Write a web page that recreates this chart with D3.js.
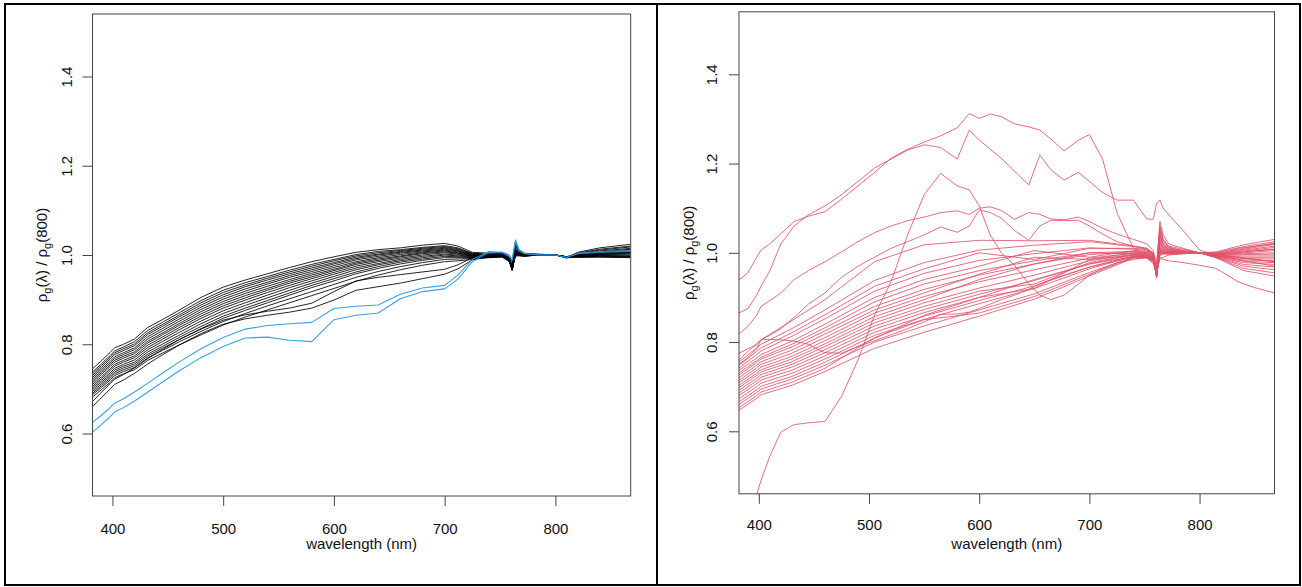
<!DOCTYPE html>
<html>
<head>
<meta charset="utf-8">
<script src="https://cdn.jsdelivr.net/npm/d3@7"></script>
<style>
body { margin: 0; background: #fff; }
svg { display: block; font-family: "Liberation Sans", Arial, sans-serif; }
</style>
</head>
<body>
<svg id="chart"></svg>
<script>
// ---- data ----
var xTicks = [400, 500, 600, 700, 800];
var yTicks = [0.6, 0.8, 1.0, 1.2, 1.4];

// left panel, wavelengths (nm)
var leftWaves = [382, 390, 398, 402, 410, 420, 432, 445, 460, 480, 500, 520, 540, 560, 580, 600, 620, 640, 660, 680, 700, 712, 725, 740, 752, 758, 761, 764, 767, 772, 785, 800, 810, 820, 840, 868];

var leftBlack = [
  [0.745,0.763,0.782,0.792,0.800,0.812,0.838,0.855,0.876,0.905,0.928,0.944,0.958,0.972,0.985,0.996,1.006,1.012,1.016,1.022,1.026,1.020,1.006,1.004,1.006,1.000,0.985,1.030,1.012,1.004,1.002,1.000,0.994,1.006,1.016,1.024],
  [0.738,0.756,0.775,0.785,0.794,0.806,0.831,0.849,0.870,0.898,0.921,0.938,0.952,0.966,0.979,0.990,1.001,1.008,1.012,1.017,1.021,1.016,1.004,1.002,1.004,0.997,0.978,1.024,1.010,1.003,1.001,1.000,0.995,1.004,1.013,1.020],
  [0.734,0.752,0.771,0.781,0.790,0.801,0.826,0.844,0.865,0.893,0.916,0.933,0.948,0.962,0.975,0.987,0.998,1.005,1.010,1.015,1.019,1.014,1.003,1.001,1.003,0.995,0.975,1.020,1.008,1.002,1.000,1.000,0.996,1.003,1.011,1.018],
  [0.730,0.748,0.767,0.777,0.786,0.797,0.822,0.840,0.861,0.888,0.911,0.929,0.944,0.958,0.971,0.983,0.995,1.002,1.008,1.013,1.017,1.012,1.002,1.000,1.002,0.994,0.972,1.016,1.006,1.001,1.000,1.000,0.995,1.002,1.009,1.015],
  [0.726,0.744,0.762,0.772,0.781,0.792,0.817,0.835,0.856,0.883,0.906,0.924,0.939,0.954,0.967,0.980,0.992,1.000,1.006,1.011,1.015,1.010,1.001,1.000,1.001,0.993,0.970,1.013,1.005,1.001,1.000,1.000,0.996,1.001,1.007,1.013],
  [0.722,0.740,0.758,0.768,0.777,0.788,0.812,0.830,0.851,0.878,0.901,0.919,0.935,0.950,0.963,0.976,0.989,0.997,1.004,1.009,1.013,1.009,1.000,0.999,1.000,0.992,0.968,1.010,1.004,1.000,1.000,1.000,0.995,1.000,1.006,1.011],
  [0.718,0.736,0.754,0.764,0.773,0.783,0.807,0.825,0.846,0.873,0.896,0.914,0.930,0.945,0.959,0.972,0.985,0.994,1.001,1.007,1.011,1.007,0.999,0.999,1.000,0.991,0.967,1.008,1.003,1.000,1.000,1.000,0.996,0.999,1.004,1.008],
  [0.714,0.732,0.750,0.760,0.769,0.779,0.803,0.821,0.842,0.868,0.891,0.909,0.925,0.941,0.955,0.968,0.982,0.991,0.998,1.005,1.009,1.005,0.998,0.998,0.999,0.990,0.966,1.006,1.002,0.999,1.000,1.000,0.995,0.999,1.003,1.006],
  [0.710,0.727,0.745,0.755,0.764,0.774,0.798,0.816,0.837,0.863,0.886,0.904,0.921,0.937,0.951,0.965,0.979,0.988,0.996,1.003,1.007,1.004,0.998,0.998,0.999,0.990,0.965,1.005,1.002,0.999,1.000,1.000,0.996,0.998,1.002,1.004],
  [0.706,0.723,0.741,0.751,0.760,0.770,0.793,0.811,0.832,0.858,0.881,0.899,0.916,0.932,0.947,0.961,0.975,0.985,0.993,1.000,1.005,1.002,0.997,0.997,0.998,0.989,0.966,1.004,1.001,0.999,1.000,1.000,0.995,0.998,1.001,1.002],
  [0.702,0.719,0.736,0.746,0.755,0.765,0.788,0.806,0.826,0.852,0.875,0.893,0.910,0.927,0.942,0.957,0.971,0.981,0.990,0.997,1.002,1.000,0.996,0.997,0.998,0.989,0.967,1.003,1.001,0.999,1.000,1.000,0.996,0.997,1.000,1.000],
  [0.698,0.715,0.732,0.742,0.751,0.760,0.783,0.800,0.820,0.846,0.869,0.887,0.904,0.921,0.937,0.952,0.967,0.978,0.987,0.994,1.000,0.998,0.995,0.996,0.997,0.988,0.968,1.002,1.000,0.998,1.000,1.000,0.995,0.997,0.999,0.998],
  [0.694,0.711,0.728,0.738,0.747,0.756,0.778,0.795,0.815,0.840,0.863,0.881,0.898,0.915,0.932,0.947,0.962,0.974,0.984,0.991,0.997,0.996,0.994,0.996,0.997,0.988,0.970,1.001,1.000,0.998,1.000,1.000,0.996,0.996,0.998,0.997],
  [0.690,0.707,0.724,0.734,0.743,0.752,0.774,0.791,0.810,0.835,0.858,0.876,0.893,0.910,0.927,0.942,0.958,0.970,0.980,0.988,0.994,0.994,0.993,0.995,0.996,0.987,0.972,1.000,0.999,0.998,1.000,1.000,0.995,0.996,0.997,0.996],
  [0.687,0.703,0.720,0.730,0.739,0.748,0.770,0.786,0.805,0.829,0.851,0.869,0.886,0.902,0.918,0.934,0.950,0.963,0.974,0.983,0.990,0.991,0.992,0.995,0.996,0.987,0.974,0.999,0.999,0.998,1.000,1.000,0.996,0.995,0.996,0.995],
  [0.682,0.698,0.715,0.725,0.734,0.743,0.764,0.780,0.798,0.821,0.843,0.861,0.877,0.893,0.909,0.925,0.941,0.955,0.967,0.977,0.985,0.987,0.990,0.994,0.995,0.986,0.975,0.998,0.998,0.997,1.000,1.000,0.995,0.995,0.995,0.994],
  [0.672,0.692,0.712,0.722,0.732,0.747,0.768,0.788,0.810,0.834,0.854,0.866,0.874,0.881,0.892,0.918,0.942,0.950,0.956,0.962,0.968,0.978,0.994,0.999,1.000,0.990,0.970,1.012,1.004,1.000,1.000,1.000,0.993,0.999,1.004,1.006],
  [0.660,0.680,0.700,0.710,0.720,0.735,0.756,0.776,0.798,0.824,0.845,0.857,0.865,0.872,0.881,0.899,0.921,0.929,0.937,0.947,0.957,0.969,0.989,0.998,1.000,0.990,0.972,1.010,1.003,1.000,1.000,1.000,0.994,0.999,1.003,1.005]
];

var leftBlue = [
  [0.625,0.641,0.658,0.668,0.678,0.693,0.713,0.735,0.760,0.790,0.815,0.834,0.842,0.846,0.849,0.880,0.885,0.888,0.912,0.926,0.932,0.955,0.990,1.008,1.006,1.000,0.990,1.034,1.012,1.004,1.000,1.000,0.994,1.004,1.008,1.010],
  [0.603,0.620,0.638,0.648,0.658,0.673,0.693,0.715,0.740,0.770,0.795,0.814,0.816,0.809,0.806,0.855,0.865,0.870,0.902,0.918,0.924,0.946,0.985,1.006,1.005,0.998,0.988,1.030,1.010,1.003,1.000,1.000,0.995,1.003,1.006,1.008]
];

// right panel, the bundle on a coarser grid
var rightBundleWaves = [382, 398, 402, 430, 460, 505, 550, 600, 650, 700, 740, 752, 758, 761, 764, 767, 772, 785, 800, 815, 840, 868];

var rightBundle = [
  [0.760,0.797,0.805,0.848,0.895,0.980,1.018,1.028,1.027,1.028,1.015,1.010,1.000,0.965,1.060,1.030,1.015,1.008,1.000,1.002,1.018,1.030],
  [0.755,0.787,0.795,0.830,0.872,0.938,0.978,1.006,1.017,1.025,1.014,1.010,0.998,0.962,1.050,1.025,1.012,1.005,1.000,1.000,1.014,1.025],
  [0.748,0.779,0.787,0.821,0.861,0.925,0.964,1.000,0.985,1.010,1.010,1.008,0.996,0.958,1.045,1.020,1.010,1.004,1.000,0.998,1.010,1.022],
  [0.742,0.772,0.780,0.813,0.852,0.914,0.954,0.983,0.998,1.011,1.008,1.006,0.995,0.955,1.040,1.018,1.008,1.003,1.000,0.997,1.008,1.019],
  [0.737,0.764,0.772,0.802,0.840,0.900,0.940,0.970,1.005,0.990,1.005,1.004,0.994,0.952,1.035,1.016,1.007,1.002,1.000,0.996,1.006,1.015],
  [0.731,0.758,0.766,0.795,0.832,0.890,0.930,0.960,0.982,1.000,1.003,1.002,0.993,0.950,1.030,1.014,1.006,1.002,1.000,0.996,1.004,1.012],
  [0.726,0.754,0.762,0.789,0.825,0.880,0.918,0.950,0.975,0.996,1.002,1.001,0.992,0.948,1.026,1.012,1.005,1.001,1.000,0.995,1.002,1.008],
  [0.720,0.748,0.756,0.782,0.818,0.872,0.910,0.952,0.990,0.985,1.000,1.000,0.991,0.946,1.022,1.010,1.004,1.001,1.000,0.995,1.000,1.005],
  [0.714,0.742,0.750,0.775,0.810,0.865,0.902,0.935,0.962,0.988,0.999,0.999,0.990,0.945,1.018,1.008,1.003,1.000,1.000,0.994,0.998,1.000],
  [0.709,0.736,0.744,0.768,0.803,0.857,0.895,0.940,0.975,1.000,0.998,0.998,0.989,0.944,1.015,1.006,1.002,1.000,1.000,0.994,0.996,0.997],
  [0.703,0.730,0.738,0.762,0.796,0.850,0.888,0.921,0.950,0.982,0.997,0.997,0.988,0.944,1.012,1.005,1.001,1.000,1.000,0.993,0.993,0.993],
  [0.698,0.725,0.733,0.756,0.790,0.843,0.880,0.914,0.930,0.978,0.996,0.996,0.987,0.946,1.010,1.004,1.001,1.000,1.000,0.993,0.990,0.990],
  [0.692,0.719,0.727,0.750,0.783,0.836,0.873,0.907,0.938,0.975,0.995,0.995,0.986,0.948,1.008,1.003,1.000,1.000,1.000,0.992,0.987,0.986],
  [0.686,0.713,0.721,0.744,0.776,0.829,0.866,0.900,0.920,0.985,0.994,0.994,0.985,0.950,1.006,1.002,1.000,1.000,1.000,0.992,0.984,0.982],
  [0.680,0.707,0.715,0.737,0.769,0.822,0.858,0.893,0.926,0.968,0.993,0.993,0.984,0.952,1.004,1.001,1.000,1.000,1.000,0.991,0.981,0.978],
  [0.673,0.700,0.708,0.730,0.762,0.815,0.851,0.886,0.920,0.964,0.992,0.992,0.983,0.954,1.002,1.000,1.000,1.000,1.000,0.991,0.978,0.974],
  [0.666,0.693,0.701,0.723,0.755,0.808,0.860,0.900,0.940,0.975,0.991,0.991,0.982,0.955,1.000,1.000,0.999,1.000,1.000,0.990,0.974,0.968],
  [0.660,0.687,0.695,0.717,0.748,0.800,0.836,0.872,0.908,0.956,0.990,0.990,0.981,0.956,0.998,0.999,0.999,1.000,1.000,0.990,0.970,0.962],
  [0.653,0.680,0.688,0.710,0.741,0.810,0.850,0.865,0.902,0.952,0.989,0.989,0.980,0.957,0.996,0.998,0.998,1.000,1.000,0.989,0.965,0.955],
  [0.647,0.674,0.682,0.703,0.734,0.786,0.822,0.858,0.896,0.948,0.988,0.988,0.979,0.958,0.994,0.997,0.998,1.000,1.000,0.989,0.960,0.948]
];

// right panel, the curves that leave the bundle, on a finer grid
var rightWaves = [382, 390, 398, 402, 410, 420, 432, 445, 460, 475, 490, 505, 520, 535, 550, 565, 580, 591, 600, 610, 620, 632, 645, 655, 665, 677, 690, 700, 712, 725, 740, 752, 758, 761, 764, 767, 772, 785, 800, 815, 835, 850, 868];

var rightOutliers = [
  [0.939,0.955,0.990,1.006,1.020,1.043,1.070,1.082,1.092,1.120,1.150,1.180,1.212,1.232,1.248,1.262,1.280,1.312,1.301,1.311,1.305,1.289,1.282,1.275,1.255,1.228,1.252,1.265,1.210,1.090,1.010,0.990,0.975,0.955,0.990,0.985,0.982,0.978,0.972,0.965,0.935,0.922,0.910],
  [0.865,0.875,0.905,0.925,0.960,1.020,1.060,1.085,1.105,1.130,1.160,1.190,1.210,1.230,1.242,1.236,1.210,1.275,1.253,1.232,1.212,1.183,1.152,1.219,1.186,1.163,1.180,1.160,1.135,1.118,1.118,1.076,1.075,1.110,1.118,1.100,1.085,1.050,1.006,0.995,0.990,0.985,0.980],
  [0.330,0.400,0.458,0.490,0.545,0.598,0.615,0.619,0.622,0.678,0.760,0.860,0.935,1.040,1.130,1.178,1.150,1.141,1.105,1.040,1.000,0.972,0.930,0.905,0.895,0.905,0.930,0.950,0.965,0.978,0.985,0.990,0.985,0.955,1.000,1.000,0.996,0.998,1.000,0.996,0.990,0.985,0.980],
  [0.775,0.785,0.793,0.805,0.806,0.805,0.802,0.795,0.776,0.775,0.790,0.803,0.816,0.830,0.845,0.862,0.863,0.867,0.875,0.885,0.895,0.905,0.918,0.930,0.940,0.950,0.960,0.968,0.975,0.982,0.990,0.992,0.985,0.955,0.985,0.990,0.995,0.998,1.000,0.995,0.985,0.978,0.970],
  [0.818,0.835,0.860,0.880,0.893,0.910,0.940,0.960,0.980,1.002,1.025,1.045,1.060,1.072,1.080,1.090,1.094,1.086,1.100,1.103,1.095,1.075,1.090,1.086,1.076,1.074,1.080,1.070,1.055,1.042,1.030,1.020,1.005,0.975,1.070,1.040,1.020,1.010,1.000,1.000,1.010,1.015,1.020],
  [0.750,0.765,0.785,0.805,0.815,0.830,0.855,0.885,0.910,0.945,0.970,0.990,1.010,1.025,1.040,1.058,1.046,1.060,1.096,1.090,1.078,1.050,1.028,1.060,1.073,1.072,1.073,1.060,1.042,1.025,1.015,1.008,0.998,0.960,1.055,1.030,1.012,1.005,1.000,0.998,1.000,1.005,1.008]
];

// ---- layout ----
var screen = {width: 1302, height: 587};

var panels = [
  {id: "left",  frame: {x: 5, y: 4, w: 652, h: 581},
   plot: {left: 92.5, right: 630.7, top: 14, bottom: 496},
   yLabelX: 71.5, yTitleX: 47, xLabelY: 533.5, xTitleY: 549},
  {id: "right", frame: {x: 657, y: 4, w: 643, h: 581},
   plot: {left: 739, right: 1274.5, top: 11.8, bottom: 493.8},
   yLabelX: 717, yTitleX: 694, xLabelY: 530, xTitleY: 549}
];

var svg = d3.select("#chart")
  .attr("width", screen.width)
  .attr("height", screen.height);

var drawPanel = function(p){
  var xScale = d3.scaleLinear().domain([382, 868]).range([p.plot.left, p.plot.right]);
  var yScale = d3.scaleLinear().domain([0.46, 1.54]).range([p.plot.bottom, p.plot.top]);

  svg.append("rect")
    .attr("x", p.frame.x).attr("y", p.frame.y)
    .attr("width", p.frame.w).attr("height", p.frame.h)
    .attr("fill", "none").attr("stroke", "black").attr("stroke-width", 2);

  svg.append("clipPath").attr("id", "clip-" + p.id)
    .append("rect")
    .attr("x", p.plot.left).attr("y", p.plot.top)
    .attr("width", p.plot.right - p.plot.left)
    .attr("height", p.plot.bottom - p.plot.top);

  var xAxis = d3.axisBottom(xScale).tickValues(xTicks).tickSize(10).tickPadding(17);
  svg.append("g")
    .attr("transform", "translate(0," + p.plot.bottom + ")")
    .call(xAxis)
    .call(function(g){ g.select(".domain").remove(); })
    .call(function(g){
      g.selectAll("line").attr("stroke", "#444");
      g.selectAll("text")
        .attr("y", p.xLabelY - p.plot.bottom).attr("dy", null)
        .attr("fill", "#111").style("font-size", "15px")
        .style("font-family", "'Liberation Sans', Arial, sans-serif");
    });

  var yAxis = d3.axisLeft(yScale).tickValues(yTicks).tickSize(10).tickFormat(d3.format(".1f"));
  svg.append("g")
    .attr("transform", "translate(" + p.plot.left + ",0)")
    .call(yAxis)
    .call(function(g){ g.select(".domain").remove(); })
    .call(function(g){
      g.selectAll("line").attr("stroke", "#444");
      g.selectAll("text")
        .attr("x", 0).attr("y", -(p.plot.left - p.yLabelX)).attr("dy", null)
        .attr("transform", "rotate(-90)")
        .attr("text-anchor", "middle")
        .attr("fill", "#111").style("font-size", "15px")
        .style("font-family", "'Liberation Sans', Arial, sans-serif");
    });

  svg.append("text")
    .attr("x", (p.plot.left + p.plot.right) / 2).attr("y", p.xTitleY)
    .attr("text-anchor", "middle").attr("fill", "#111")
    .style("font-size", "15px")
    .text("wavelength (nm)");

  var yt = svg.append("text")
    .attr("transform", "translate(" + p.yTitleX + "," + ((p.plot.top + p.plot.bottom) / 2) + ") rotate(-90)")
    .attr("text-anchor", "middle").attr("fill", "#111")
    .style("font-size", "15px");
  yt.append("tspan").text("\u03c1");
  yt.append("tspan").attr("dy", 4).style("font-size", "11px").text("g");
  yt.append("tspan").attr("dy", -4).text("(\u03bb) / \u03c1");
  yt.append("tspan").attr("dy", 4).style("font-size", "11px").text("g");
  yt.append("tspan").attr("dy", -4).text("(800)");

  return {x: xScale, y: yScale};
};

var drawCurves = function(p, scales, waves, rows, color, width, opacity){
  var line = d3.line()
    .x(function(d, i){ return scales.x(waves[i]); })
    .y(function(d){ return scales.y(d); });

  svg.append("g")
    .attr("clip-path", "url(#clip-" + p.id + ")")
    .selectAll("path")
    .data(rows)
    .enter()
    .append("path")
    .attr("fill", "none")
    .attr("stroke", color)
    .attr("stroke-width", width)
    .attr("stroke-opacity", opacity)
    .attr("stroke-linejoin", "round")
    .attr("d", line);
};

var drawBox = function(p){
  svg.append("rect")
    .attr("x", p.plot.left).attr("y", p.plot.top)
    .attr("width", p.plot.right - p.plot.left)
    .attr("height", p.plot.bottom - p.plot.top)
    .attr("fill", "none").attr("stroke", "#444").attr("stroke-width", 1);
};

var leftScales = drawPanel(panels[0]);
drawCurves(panels[0], leftScales, leftWaves, leftBlack, "black", 1.0, 0.85);
drawCurves(panels[0], leftScales, leftWaves, leftBlue, "#2297E6", 1.1, 0.9);
drawBox(panels[0]);

var rightScales = drawPanel(panels[1]);
drawCurves(panels[1], rightScales, rightBundleWaves, rightBundle, "#DF536B", 1.0, 0.85);
drawCurves(panels[1], rightScales, rightWaves, rightOutliers, "#DF536B", 1.0, 0.85);
drawBox(panels[1]);
</script>
</body>
</html>
